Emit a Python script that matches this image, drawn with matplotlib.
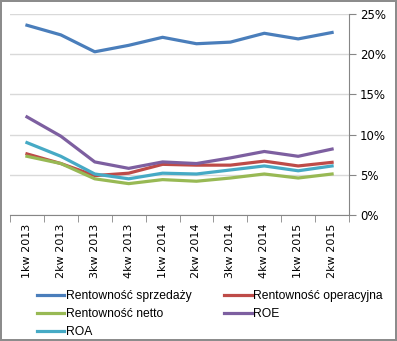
import numpy as np
import matplotlib.pyplot as plt
from matplotlib.ticker import FixedLocator, PercentFormatter

# quarters
kwartaly = ['1kw 2013', '2kw 2013', '3kw 2013', '4kw 2013', '1kw 2014',
            '2kw 2014', '3kw 2014', '4kw 2014', '1kw 2015', '2kw 2015']

# profitability ratios (%)
sprzedazy = [23.6, 22.4, 20.3, 21.1, 22.1, 21.3, 21.5, 22.6, 21.9, 22.7]
operacyjna = [7.6, 6.4, 4.9, 5.2, 6.3, 6.2, 6.2, 6.7, 6.1, 6.55]
netto = [7.3, 6.4, 4.5, 3.9, 4.4, 4.2, 4.6, 5.1, 4.6, 5.1]
roe = [12.2, 9.8, 6.6, 5.8, 6.6, 6.4, 7.1, 7.9, 7.3, 8.2]
roa = [9.0, 7.3, 5.1, 4.5, 5.2, 5.1, 5.6, 6.1, 5.5, 6.1]

plt.rcParams['font.family'] = 'DejaVu Sans'

fig = plt.figure(figsize=(3.97, 3.41), dpi=100)
fig.patch.set_edgecolor('#8c8c8c')
fig.patch.set_linewidth(1.5)
ax = fig.add_axes([0.0252, 0.3695, 0.854, 0.5895])

x = np.arange(len(kwartaly))
lw = 2.3
h1, = ax.plot(x, sprzedazy, color='#4a7ebb', lw=lw, label='Rentowność sprzedaży')
h2, = ax.plot(x, operacyjna, color='#be4b48', lw=lw, label='Rentowność operacyjna')
h3, = ax.plot(x, netto, color='#98b954', lw=lw, label='Rentowność netto')
h4, = ax.plot(x, roe, color='#7d5fa0', lw=lw, label='ROE')
h5, = ax.plot(x, roa, color='#46aac5', lw=lw, label='ROA')

ax.set_xlim(-0.5, len(kwartaly) - 0.5)
ax.set_ylim(0, 25)
ax.yaxis.tick_right()
ax.set_yticks(np.arange(0, 26, 5))
ax.yaxis.set_major_formatter(PercentFormatter(decimals=0))
ax.grid(axis='y', color='#d9d9d9', lw=1)
ax.set_axisbelow(True)

ax.set_xticks(x)
ax.set_xticklabels(kwartaly, rotation=90, fontsize=8)
ax.tick_params(axis='x', which='major', length=0, pad=6)
ax.xaxis.set_minor_locator(FixedLocator(np.arange(-0.5, len(kwartaly), 1)))
ax.tick_params(axis='x', which='minor', length=5, color='#868686')
ax.tick_params(axis='y', length=5, color='#868686', labelsize=8.5, pad=3)

for s in ['top', 'left']:
    ax.spines[s].set_visible(False)
ax.spines['right'].set_color('#868686')
ax.spines['bottom'].set_color('#868686')

fig.legend(handles=[h1, h3, h5, h2, h4], ncol=2, frameon=False,
           loc='upper left', bbox_to_anchor=(0.078, 0.168),
           prop={'family': 'Liberation Sans', 'size': 8.7},
           handlelength=2.25, handletextpad=0.15,
           columnspacing=2.7, labelspacing=0.5, borderpad=0)

fig.savefig('out.png', dpi=100)
